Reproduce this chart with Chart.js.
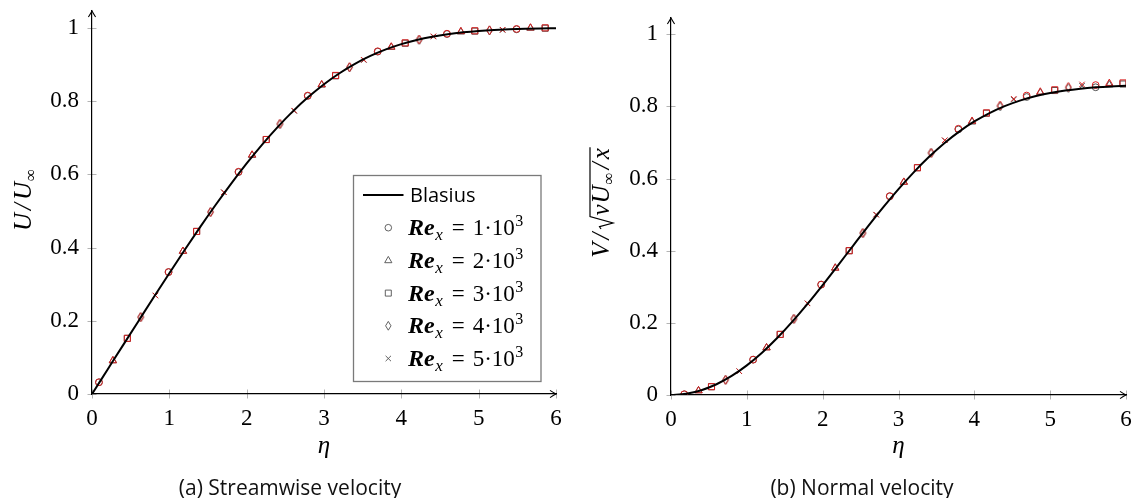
<!DOCTYPE html>
<html>
<head>
<meta charset="utf-8">
<script src="https://cdn.jsdelivr.net/npm/chart.js@4.4.1/dist/chart.umd.min.js"></script>
<style>
  body { margin: 0; background: #fff; width: 1132px; height: 498px; overflow: hidden; position: relative; }
  canvas { position: absolute; top: 0; }
  #leftChart { left: 0; }
  #rightChart { left: 566px; }
  .cap { position: absolute; top: 474px; font: 21px "Open Sans", sans-serif; line-height: 26px;
         transform: translateX(-50%); white-space: nowrap; color: #111; }
</style>
</head>
<body>
<canvas id="leftChart" width="566" height="498"></canvas>
<canvas id="rightChart" width="566" height="498"></canvas>
<div class="cap" style="left:290px">(a) Streamwise velocity</div>
<div class="cap" style="left:862px">(b) Normal velocity</div>
<script>
const xTicks = [0, 1, 2, 3, 4, 5, 6];
const yTicks = [0, 0.2, 0.4, 0.6, 0.8, 1];
const reLabels = ['1', '2', '3', '4', '5'];

// Blasius solution
const blasiusEta = [0, 0.2, 0.4, 0.6, 0.8, 1.0, 1.2, 1.4, 1.6, 1.8, 2.0, 2.2, 2.4, 2.6, 2.8, 3.0,
  3.2, 3.4, 3.6, 3.8, 4.0, 4.2, 4.4, 4.6, 4.8, 5.0, 5.2, 5.4, 5.6, 5.8, 6.0];
const blasiusU = [0, 0.0664, 0.1328, 0.1989, 0.2647, 0.3298, 0.3938, 0.4563, 0.5168, 0.5748, 0.6298,
  0.6813, 0.7290, 0.7725, 0.8115, 0.8461, 0.8761, 0.9018, 0.9233, 0.9411, 0.9555, 0.9670, 0.9759,
  0.9827, 0.9878, 0.9916, 0.9943, 0.9962, 0.9975, 0.9984, 0.9990];
const blasiusV = [0, 0.0033, 0.0133, 0.0298, 0.0528, 0.0821, 0.1173, 0.1579, 0.2033, 0.2525, 0.3048,
  0.3589, 0.4136, 0.4679, 0.5206, 0.5707, 0.6172, 0.6595, 0.6972, 0.7301, 0.7582, 0.7816, 0.8007,
  0.8161, 0.8280, 0.8372, 0.8441, 0.8492, 0.8528, 0.8554, 0.8571];

// streamwise velocity samples, one row per Re_x
const uEta = [
  [0.09, 0.99, 1.895, 2.79, 3.695, 4.59, 5.49],
  [0.27, 1.176, 2.07, 2.97, 3.87, 4.77, 5.67],
  [0.457, 1.353, 2.253, 3.15, 4.05, 4.95, 5.86],
  [0.63, 1.533, 2.43, 3.33, 4.23, 5.14],
  [0.82, 1.705, 2.615, 3.515, 4.415, 5.31]
];
const uRed = [
  [0.032, 0.333, 0.607, 0.815, 0.936, 0.984, 0.997],
  [0.091, 0.390, 0.653, 0.845, 0.948, 0.990, 1.0],
  [0.152, 0.444, 0.695, 0.870, 0.959, 0.992, 1.0],
  [0.210, 0.497, 0.738, 0.893, 0.968, 0.9935],
  [0.269, 0.551, 0.774, 0.913, 0.977, 0.995]
];
const uBlack = [
  [0.032, 0.333, 0.606, 0.814, 0.935, 0.983, 0.996],
  [0.091, 0.390, 0.652, 0.844, 0.947, 0.989, 0.999],
  [0.152, 0.444, 0.695, 0.869, 0.958, 0.991, 0.999],
  [0.210, 0.497, 0.737, 0.892, 0.967, 0.993],
  [0.269, 0.551, 0.773, 0.912, 0.976, 0.994]
];

// normal velocity samples
const vEta = [
  [0.175, 1.083, 1.98, 2.885, 3.79, 4.69, 5.60],
  [0.363, 1.26, 2.166, 3.07, 3.97, 4.87, 5.78],
  [0.534, 1.44, 2.35, 3.25, 4.16, 5.06, 5.96],
  [0.72, 1.62, 2.53, 3.43, 4.34, 5.24],
  [0.90, 1.80, 2.705, 3.61, 4.52, 5.42]
];
const vRed = [
  [0.002, 0.098, 0.306, 0.551, 0.738, 0.830, 0.859],
  [0.012, 0.131, 0.352, 0.590, 0.759, 0.840, 0.864],
  [0.023, 0.168, 0.400, 0.630, 0.782, 0.846, 0.865],
  [0.042, 0.211, 0.449, 0.671, 0.8025, 0.854],
  [0.066, 0.254, 0.500, 0.706, 0.821, 0.861]
];
const vBlack = [
  [0.002, 0.098, 0.306, 0.551, 0.736, 0.826, 0.853],
  [0.012, 0.131, 0.352, 0.590, 0.757, 0.838, 0.860],
  [0.023, 0.168, 0.400, 0.630, 0.781, 0.844, 0.862],
  [0.042, 0.211, 0.449, 0.671, 0.800, 0.851],
  [0.066, 0.254, 0.500, 0.706, 0.819, 0.857]
];

const SERIF = '"Liberation Serif", "Times New Roman", serif';
const RED = '#d81e1e';
const DARK = '#505050';

// the thin diamond has no built-in style, so it gets a tiny image
function makeDiamond(color) {
  const c = document.createElement('canvas');
  c.width = 9; c.height = 11;
  const g = c.getContext('2d');
  g.strokeStyle = color;
  g.lineWidth = 1;
  g.beginPath();
  g.moveTo(4.5, 1); g.lineTo(7.3, 5.5); g.lineTo(4.5, 10); g.lineTo(1.7, 5.5); g.closePath();
  g.stroke();
  return c;
}
const pointStyles = ['circle', 'triangle', 'rect', null, 'crossRot'];
const pointSizes = [3.4, 4.2, 4.3, 5, 3.8];
const redStyles = pointStyles.map(s => s || makeDiamond(RED));
const darkStyles = pointStyles.map(s => s || makeDiamond(DARK));

function buildDatasets(curve, etas, reds, blacks) {
  const sets = [{
    label: 'Blasius',
    data: blasiusEta.map((e, i) => ({ x: e, y: curve[i] })),
    showLine: true,
    borderColor: '#000',
    borderWidth: 2,
    pointRadius: 0,
    cubicInterpolationMode: 'monotone',
    order: 0
  }];
  etas.forEach((eta, k) => {
    const common = { pointRadius: pointSizes[k], pointBorderWidth: 1, pointBackgroundColor: 'rgba(0,0,0,0)' };
    sets.push(Object.assign({
      label: 'Re_x = ' + reLabels[k] + '·10^3',
      data: eta.map((e, j) => ({ x: e, y: blacks[k][j] })),
      pointStyle: darkStyles[k], pointBorderColor: DARK, order: 2
    }, common));
    sets.push(Object.assign({
      label: 'Re_x = ' + reLabels[k] + '·10^3 (red)',
      data: eta.map((e, j) => ({ x: e, y: reds[k][j] })),
      pointStyle: redStyles[k], pointBorderColor: RED, order: 1
    }, common));
  });
  return sets;
}

// legend marker, same look as the points
function legendMark(ctx, k, x, y) {
  ctx.save();
  ctx.strokeStyle = DARK;
  ctx.lineWidth = 0.9;
  ctx.beginPath();
  if (k === 0) ctx.arc(x, y, 3.3, 0, Math.PI * 2);
  if (k === 1) { ctx.moveTo(x, y - 4); ctx.lineTo(x + 3.6, y + 2.3); ctx.lineTo(x - 3.6, y + 2.3); ctx.closePath(); }
  if (k === 2) ctx.rect(x - 3, y - 3, 6, 6);
  if (k === 3) { ctx.moveTo(x, y - 4.4); ctx.lineTo(x + 2.7, y); ctx.lineTo(x, y + 4.4); ctx.lineTo(x - 2.7, y); ctx.closePath(); }
  if (k === 4) { ctx.moveTo(x - 2.7, y - 2.7); ctx.lineTo(x + 2.7, y + 2.7); ctx.moveTo(x + 2.7, y - 2.7); ctx.lineTo(x - 2.7, y + 2.7); }
  ctx.stroke();
  ctx.restore();
}

// text helper: runs of differently styled text along a baseline
function measureRuns(ctx, runs) {
  let w = 0;
  runs.forEach(r => { ctx.font = r.f; w += (r.pl || 0) + ctx.measureText(r.t).width + (r.pr || 0); });
  return w;
}
function drawRuns(ctx, runs, x, y) {
  runs.forEach(r => {
    ctx.font = r.f;
    x += r.pl || 0;
    ctx.fillText(r.t, x, y + (r.dy || 0));
    x += ctx.measureText(r.t).width + (r.pr || 0);
  });
  return x;
}

const tIt = `italic 25px ${SERIF}`;
const tSub = `17px ${SERIF}`;

function drawArrowHead(ctx, x, y, dir) {
  ctx.save();
  ctx.translate(x, y);
  ctx.rotate(dir);
  ctx.beginPath();
  ctx.moveTo(-6, -3.6);
  ctx.quadraticCurveTo(-1.8, -0.9, 0, 0);
  ctx.quadraticCurveTo(-1.8, 0.9, -6, 3.6);
  ctx.lineWidth = 1.1;
  ctx.strokeStyle = '#000';
  ctx.stroke();
  ctx.restore();
}

const deco = {
  id: 'deco',
  beforeDraw(chart) {
    const { ctx, chartArea: a, scales: { x, y } } = chart;
    ctx.save();
    ctx.strokeStyle = '#b4b4b4';
    ctx.lineWidth = 1;
    ctx.beginPath();
    x.ticks.forEach(t => {
      const px = Math.round(x.getPixelForValue(t.value)) + 0.5;
      ctx.moveTo(px, a.bottom - 4.5); ctx.lineTo(px, a.bottom + 4.5);
    });
    y.ticks.forEach(t => {
      const py = Math.round(y.getPixelForValue(t.value)) + 0.5;
      ctx.moveTo(a.left - 4.5, py); ctx.lineTo(a.left + 4.5, py);
    });
    ctx.stroke();
    ctx.restore();
  },
  afterDraw(chart, args, opts) {
    const { ctx, chartArea: a } = chart;
    ctx.save();
    drawArrowHead(ctx, a.right, a.bottom, 0);
    drawArrowHead(ctx, a.left, a.top, -Math.PI / 2);
    ctx.fillStyle = '#000';
    ctx.textBaseline = 'alphabetic';

    // x title
    ctx.font = `italic 25px ${SERIF}`;
    ctx.textAlign = 'center';
    ctx.fillText('η', (a.left + a.right) / 2, 453);
    ctx.textAlign = 'left';

    // y title, rotated
    ctx.save();
    ctx.translate(opts.titleX, opts.titleY);
    ctx.rotate(-Math.PI / 2);
    if (opts.kind === 'U') {
      const runs = [
        { t: 'U', f: tIt },
        { t: '/', f: tIt, pl: 3, pr: 3 },
        { t: 'U', f: tIt },
        { t: '∞', f: tSub, dy: 5, pl: 1 }
      ];
      drawRuns(ctx, runs, -measureRuns(ctx, runs) / 2, 0);
    } else {
      const pre = [{ t: 'V', f: tIt }, { t: '/', f: tIt, pl: 3, pr: 3 }];
      const under = [
        { t: 'ν', f: tIt },
        { t: 'U', f: tIt, pl: 1 },
        { t: '∞', f: tSub, dy: 5, pl: 1 },
        { t: '/', f: tIt, pl: 3, pr: 3 },
        { t: 'x', f: tIt }
      ];
      const radW = 14;
      const wPre = measureRuns(ctx, pre), wUnder = measureRuns(ctx, under);
      let cx = -(wPre + radW + wUnder) / 2;
      cx = drawRuns(ctx, pre, cx, 0);
      ctx.beginPath();
      ctx.moveTo(cx + 0.5, -8);
      ctx.lineTo(cx + 3, -9.5);
      ctx.lineTo(cx + 6.5, 4);
      ctx.lineTo(cx + radW - 1, -19);
      ctx.lineTo(cx + radW + wUnder + 1, -19);
      ctx.lineWidth = 1.2;
      ctx.strokeStyle = '#000';
      ctx.stroke();
      drawRuns(ctx, under, cx + radW, 0);
    }
    ctx.restore();

    // legend
    if (opts.legend) {
      const L = { x: 353.5, y: 175.5, w: 187.5, h: 206 };
      ctx.fillStyle = '#fff';
      ctx.fillRect(L.x, L.y, L.w, L.h);
      ctx.strokeStyle = '#7a7a7a';
      ctx.lineWidth = 1.3;
      ctx.strokeRect(L.x, L.y, L.w, L.h);
      ctx.fillStyle = '#000';
      const row0 = 195, rowH = 32.7;
      ctx.beginPath();
      ctx.moveTo(363, row0); ctx.lineTo(403.5, row0);
      ctx.lineWidth = 2; ctx.strokeStyle = '#000'; ctx.stroke();
      ctx.font = '20px "Open Sans", sans-serif';
      ctx.textBaseline = 'middle';
      ctx.fillText('Blasius', 410, row0 + 1);
      ctx.textBaseline = 'alphabetic';
      reLabels.forEach((n, k) => {
        const cy = row0 + rowH * (k + 1);
        legendMark(ctx, k, 388.3, cy);
        const runs = [
          { t: 'Re', f: `italic bold 24px ${SERIF}` },
          { t: 'x', f: `italic 17px ${SERIF}`, dy: 5, pl: 0.5 },
          { t: '=', f: `23px ${SERIF}`, pl: 9, pr: 8 },
          { t: n + '·10', f: `23px ${SERIF}` },
          { t: '3', f: `16px ${SERIF}`, dy: -9, pl: 0.5 }
        ];
        drawRuns(ctx, runs, 408, cy + 7.5);
      });
    }
    ctx.restore();
  }
};

function makeOptions(yWidth, xHeight, pad, yMax, decoOpts) {
  return {
    responsive: false,
    animation: false,
    events: [],
    layout: { padding: pad },
    plugins: { legend: { display: false }, tooltip: { enabled: false }, deco: decoOpts },
    scales: {
      x: {
        type: 'linear', min: 0, max: 6,
        afterBuildTicks: s => { s.ticks = xTicks.map(v => ({ value: v })); },
        afterFit: s => { s.height = xHeight; s.paddingLeft = 0; s.paddingRight = 0; },
        grid: { display: true, drawOnChartArea: false, drawTicks: false },
        border: { color: '#000', width: 1.2 },
        ticks: { padding: 11, maxRotation: 0, autoSkip: false, color: '#000',
                 font: { family: SERIF, size: 23, lineHeight: 1.2 }, callback: v => String(v) }
      },
      y: {
        type: 'linear', min: 0, max: yMax,
        afterBuildTicks: s => { s.ticks = yTicks.map(v => ({ value: v })); },
        afterFit: s => { s.width = yWidth; s.paddingTop = 0; s.paddingBottom = 0; },
        grid: { display: true, drawOnChartArea: false, drawTicks: false },
        border: { color: '#000', width: 1.2 },
        ticks: { padding: 13, color: '#000', font: { family: SERIF, size: 23 },
                 callback: v => (v === 0 || v === 1) ? String(v) : v.toFixed(1) }
      }
    }
  };
}

new Chart(document.getElementById('leftChart'), {
  type: 'scatter',
  data: { datasets: buildDatasets(blasiusU, uEta, uRed, uBlack) },
  options: makeOptions(92, 104, { top: 11, right: 10, bottom: 0, left: 0 }, 1.046,
    { kind: 'U', titleX: 31, titleY: 200, legend: true }),
  plugins: [deco]
});

new Chart(document.getElementById('rightChart'), {
  type: 'scatter',
  data: { datasets: buildDatasets(blasiusV, vEta, vRed, vBlack) },
  options: makeOptions(105, 103, { top: 18, right: 5, bottom: 0, left: 0 }, 1.045,
    { kind: 'V', titleX: 43, titleY: 203, legend: false }),
  plugins: [deco]
});
</script>
</body>
</html>
